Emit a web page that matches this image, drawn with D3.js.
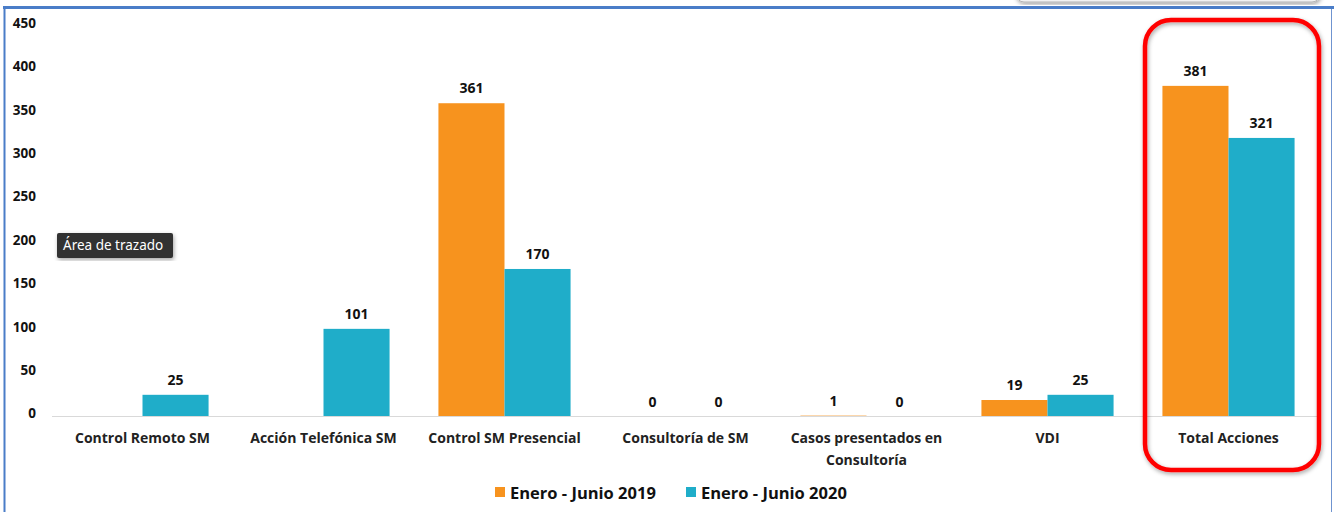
<!DOCTYPE html>
<html>
<head>
<meta charset="utf-8">
<script src="https://cdn.jsdelivr.net/npm/d3@7"></script>
<style>
  html, body { margin: 0; padding: 0; background: #fff; }
  svg { display: block; }
</style>
</head>
<body>
<svg id="chart" width="1334" height="512"></svg>
<script>
// Acciones de soporte por tipo, comparación semestral
const categories = [
  ["Control Remoto SM"],
  ["Acción Telefónica SM"],
  ["Control SM Presencial"],
  ["Consultoría de SM"],
  ["Casos presentados en", "Consultoría"],
  ["VDI"],
  ["Total Acciones"]
];
const seriesNames = ["Enero - Junio 2019", "Enero - Junio 2020"];
const values2019 = [null, null, 361, 0, 1, 19, 381];
const values2020 = [25, 101, 170, 0, 0, 25, 321];
const yTicks = [0, 50, 100, 150, 200, 250, 300, 350, 400, 450];
const colors = ["#F7931E", "#1FADC9"];

const font = "'Open Sans', 'Liberation Sans', sans-serif";
const svg = d3.select("#chart");

const defs = svg.append("defs");
const sh = defs.append("filter").attr("id", "shadow")
  .attr("x", "-10%").attr("y", "-10%").attr("width", "120%").attr("height", "120%");
sh.append("feDropShadow").attr("dx", 1).attr("dy", 2).attr("stdDeviation", 2)
  .attr("flood-color", "#000").attr("flood-opacity", 0.35);

// Partial panel peeking in at the top edge
svg.append("rect")
  .attr("x", 1016).attr("y", -20).attr("width", 304).attr("height", 22)
  .attr("rx", 8).attr("fill", "#f2f2f2").attr("stroke", "#b5b5b5").attr("stroke-width", 1)
  .attr("filter", "url(#shadow)");

// Chart frame
svg.append("line").attr("x1", 3).attr("x2", 1334).attr("y1", 7.5).attr("y2", 7.5)
  .attr("stroke", "#4A7DC8").attr("stroke-width", 3);
svg.append("line").attr("x1", 4.5).attr("x2", 4.5).attr("y1", 6).attr("y2", 512)
  .attr("stroke", "#4A7DC8").attr("stroke-width", 2);
svg.append("line").attr("x1", 1331.5).attr("x2", 1331.5).attr("y1", 9).attr("y2", 512)
  .attr("stroke", "#6F94D0").attr("stroke-width", 1);

// Scales
const x0 = d3.scaleBand()
  .domain(d3.range(categories.length))
  .range([52, 1319])
  .paddingInner(0.27)
  .paddingOuter(0.135);
const x1 = d3.scaleBand()
  .domain([0, 1])
  .range([0, x0.bandwidth()]);
const y = d3.scaleLinear().domain([0, 450]).range([416.5, 26]);

// Y axis labels
const yAxis = svg.append("g").attr("transform", "translate(36,0)")
  .call(d3.axisLeft(y).tickValues(yTicks).tickSize(0).tickPadding(0));
yAxis.select(".domain").remove();
yAxis.selectAll("text")
  .attr("font-family", font).attr("font-weight", 700).attr("font-size", 13.5)
  .attr("fill", "#111").attr("dy", "0.1em");

// Bars
const seriesVals = [values2019, values2020];
const groups = svg.append("g");
categories.forEach((c, i) => {
  seriesVals.forEach((vals, s) => {
    const v = vals[i];
    if (v === null) return;
    const bx = x0(i) + x1(s);
    if (v > 0) {
      groups.append("rect")
        .attr("x", bx).attr("y", y(v))
        .attr("width", x1.bandwidth()).attr("height", y(0) - y(v))
        .attr("fill", colors[s]);
    }
    groups.append("text")
      .attr("x", bx + x1.bandwidth() / 2)
      .attr("y", y(v) - 10)
      .attr("text-anchor", "middle")
      .attr("font-family", font).attr("font-weight", 700).attr("font-size", 14)
      .attr("fill", "#111")
      .text(v);
  });
});

// Baseline
svg.append("line").attr("x1", 52).attr("x2", 1319)
  .attr("y1", y(0)).attr("y2", y(0))
  .attr("stroke", "#d9d9d9").attr("stroke-width", 1.2);

// Category labels
const xAxis = svg.append("g");
categories.forEach((lines, i) => {
  const t = xAxis.append("text")
    .attr("x", x0(i) + x0.bandwidth() / 2)
    .attr("y", 443)
    .attr("text-anchor", "middle")
    .attr("font-family", font).attr("font-weight", 700).attr("font-size", 14)
    .attr("fill", "#222");
  lines.forEach((ln, k) => {
    t.append("tspan").attr("x", x0(i) + x0.bandwidth() / 2)
      .attr("dy", k === 0 ? 0 : 22).text(ln);
  });
});

// Legend
const legend = svg.append("g");
const legendX = [495, 686];
seriesNames.forEach((name, s) => {
  legend.append("rect").attr("x", legendX[s]).attr("y", 487)
    .attr("width", 10).attr("height", 10).attr("fill", colors[s]);
  legend.append("text").attr("x", legendX[s] + 15).attr("y", 499)
    .attr("font-family", font).attr("font-weight", 700).attr("font-size", 16.5)
    .attr("fill", "#111").text(name);
});

// Highlight around the totals
svg.append("rect")
  .attr("x", 1145).attr("y", 20).attr("width", 174).attr("height", 450)
  .attr("rx", 26).attr("fill", "none")
  .attr("stroke", "#FF0000").attr("stroke-width", 4.5)
  .attr("filter", "url(#shadow)");

// Hover tooltip
const tip = svg.append("g").attr("transform", "translate(57,233)");
tip.append("rect").attr("width", 116).attr("height", 25).attr("rx", 2)
  .attr("fill", "#303030").attr("filter", "url(#shadow)");
tip.append("text").attr("x", 6).attr("y", 17)
  .attr("font-family", "'Noto Sans', 'Open Sans', sans-serif").attr("font-size", 13.5)
  .attr("fill", "#fff").text("Área de trazado");
</script>
</body>
</html>
